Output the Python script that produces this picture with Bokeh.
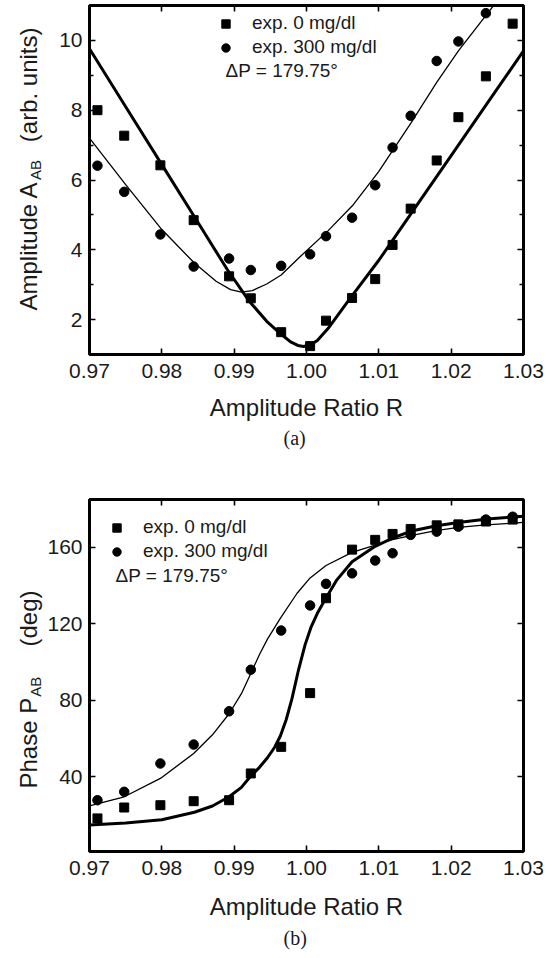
from bokeh.plotting import figure
from bokeh.models import (Range1d, LinearAxis, FixedTicker, PrintfTickFormatter,
                          Label, Legend, LegendItem, Title)
from bokeh.layouts import column, row
from bokeh.embed import file_html
from bokeh.resources import INLINE
from math import pi

# ---------------- data ----------------
ratio = [0.9711, 0.9748, 0.9798, 0.9844, 0.9893, 0.9923, 0.9965, 1.0005, 1.0027,
         1.0063, 1.0095, 1.0119, 1.0144, 1.0180, 1.0210, 1.0248, 1.0285]
amp_0 = [8.00, 7.27, 6.42, 4.85, 3.24, 2.61, 1.64, 1.24, 1.97,
         2.62, 3.16, 4.14, 5.18, 6.56, 7.80, 8.97, 10.48]
amp_300 = [6.41, 5.66, 4.44, 3.52, 3.75, 3.42, 3.54, 3.87, 4.39,
           4.92, 5.85, 6.93, 7.84, 9.41, 9.97, 10.78]
phase_0 = [18.3, 24.0, 25.2, 27.3, 27.8, 41.8, 55.7, 83.8, 133.4,
           158.8, 163.9, 167.0, 169.6, 171.5, 172.0, 173.5, 174.5]
phase_300 = [27.8, 32.2, 47.0, 56.9, 74.3, 96.0, 116.5, 129.6, 140.9,
             146.4, 153.1, 156.9, 166.5, 168.2, 170.8, 174.5, 176.0]

# fitted curves
fit_amp0_x = [0.9700, 0.9750, 0.9800, 0.9850, 0.9890, 0.9920, 0.9945, 0.9965, 0.9978, 0.9988,
              0.9996, 1.0005, 1.0015, 1.0030, 1.0060, 1.0100, 1.0150, 1.0200, 1.0250, 1.0300]
fit_amp0_y = [9.76, 8.10, 6.44, 4.78, 3.45, 2.55, 1.95, 1.58, 1.36, 1.26,
              1.23, 1.27, 1.40, 1.75, 2.60, 3.70, 5.20, 6.70, 8.20, 9.70]
fit_amp300_x = [0.9700, 0.9750, 0.9800, 0.9845, 0.9875, 0.9895, 0.9910, 0.9925, 0.9945, 0.9965,
                0.9990, 1.0030, 1.0065, 1.0100, 1.0145, 1.0180, 1.0210, 1.0270]
fit_amp300_y = [7.20, 5.87, 4.58, 3.62, 3.10, 2.86, 2.79, 2.83, 3.02, 3.28,
                3.78, 4.55, 5.30, 6.25, 7.65, 8.80, 9.70, 11.30]
fit_ph0_x = [0.9700, 0.9750, 0.9800, 0.9845, 0.9870, 0.9893, 0.9910, 0.9923, 0.9935, 0.9946,
             0.9956, 0.9964, 0.9972, 0.9980, 0.9989, 0.9998, 1.0006, 1.0015, 1.0024, 1.0042,
             1.0063, 1.0095, 1.0120, 1.0145, 1.0180, 1.0210, 1.0250, 1.0300]
fit_ph0_y = [14.8, 15.9, 17.6, 21.5, 24.8, 29.6, 34.5, 40.5, 45.0, 50.0,
             55.5, 61.5, 70.0, 81.0, 96.0, 109.0, 118.0, 125.5, 131.5, 143.0,
             152.5, 160.5, 165.0, 168.5, 171.3, 173.0, 174.8, 176.3]
fit_ph300_x = [0.9700, 0.9748, 0.9798, 0.9844, 0.9870, 0.9893, 0.9910, 0.9923, 0.9935, 0.9946,
               0.9964, 0.9987, 1.0005, 1.0027, 1.0063, 1.0095, 1.0119, 1.0144, 1.0179, 1.0210,
               1.0248, 1.0300]
fit_ph300_y = [24.9, 29.6, 39.2, 52.2, 62.0, 73.0, 83.5, 94.0, 104.0, 112.0,
               123.0, 136.0, 144.0, 150.5, 157.4, 161.2, 164.0, 166.1, 168.7, 170.4,
               171.7, 173.0]

x_ticks = [0.97, 0.98, 0.99, 1.00, 1.01, 1.02, 1.03]
amp_ticks = [2, 4, 6, 8, 10]
amp_minor = [3, 5, 7, 9]
phase_ticks = [40, 80, 120, 160]

FONT = "Liberation Sans"
SERIF = "Liberation Serif"
TXT = "#1a1a1a"
W = 554
HT = 958
LW = 44                   # width of the side strip holding the y titles
FL, FR = 87, 523          # frame left/right (page px)


def style_axis(ax, labels=True, ticks=None):
    ax.axis_line_color = None
    ax.major_tick_in = 6
    ax.major_tick_out = 0
    ax.minor_tick_in = 4
    ax.minor_tick_out = 0
    ax.major_tick_line_width = 1.6
    ax.minor_tick_line_width = 1.4
    ax.major_tick_line_color = "black"
    ax.minor_tick_line_color = "black"
    if labels:
        ax.major_label_text_font = FONT
        ax.major_label_text_font_size = "21px"
        ax.major_label_text_color = TXT
    else:
        ax.major_label_overrides = {t: "" for t in ticks}
        ax.major_label_standoff = 0


def make_fig(height, ftop, fbot, yr, yt, ymin, lab_standoff):
    p = figure(width=W - LW, height=height, x_range=Range1d(0.97, 1.03),
               y_range=Range1d(*yr), output_backend="svg", toolbar_location=None,
               min_border_left=FL - LW, min_border_right=W - FR,
               min_border_top=ftop, min_border_bottom=height - fbot)
    p.grid.visible = False
    p.outline_line_color = "black"
    p.outline_line_width = 3
    p.background_fill_color = "white"
    p.border_fill_color = "white"
    p.xaxis.ticker = FixedTicker(ticks=x_ticks, minor_ticks=[])
    p.xaxis.formatter = PrintfTickFormatter(format="%.2f")
    p.yaxis.ticker = FixedTicker(ticks=yt, minor_ticks=ymin)
    for ax in p.xaxis + p.yaxis:
        style_axis(ax)
    p.xaxis.major_label_standoff = 9
    p.yaxis.major_label_standoff = 7
    p.xaxis.axis_label = "Amplitude Ratio R"
    p.xaxis.axis_label_text_font = FONT
    p.xaxis.axis_label_text_font_size = "24px"
    p.xaxis.axis_label_text_font_style = "normal"
    p.xaxis.axis_label_text_color = TXT
    p.xaxis.axis_label_standoff = lab_standoff
    top = LinearAxis(ticker=FixedTicker(ticks=x_ticks, minor_ticks=[]))
    right = LinearAxis(ticker=FixedTicker(ticks=yt, minor_ticks=ymin))
    style_axis(top, labels=False, ticks=x_ticks)
    style_axis(right, labels=False, ticks=yt)
    p.add_layout(top, "above")
    p.add_layout(right, "right")
    return p


def add_data(p, xs, y0, y300, fx0, fy0, fx3, fy3):
    p.line(fx0, fy0, line_color="black", line_width=3.0)
    p.line(fx3, fy3, line_color="black", line_width=1.3)
    r0 = p.scatter(xs[:len(y0)], y0, marker="square", size=9,
                   fill_color="black", line_color="black")
    r3 = p.scatter(xs[:len(y300)], y300, marker="circle", size=9.5,
                   fill_color="black", line_color="black")
    return r0, r3


def add_legend(p, r0, r3, lx, ly):
    leg = Legend(items=[LegendItem(label="exp. 0 mg/dl", renderers=[r0]),
                        LegendItem(label="exp. 300 mg/dl", renderers=[r3])],
                 location=(lx, ly), orientation="vertical")
    leg.label_text_font = FONT
    leg.label_text_font_size = "19px"
    leg.label_text_color = TXT
    leg.glyph_width = 21
    leg.glyph_height = 21
    leg.label_height = 21
    leg.label_standoff = 16
    leg.spacing = 2
    leg.padding = 0
    leg.margin = 0
    leg.border_line_color = None
    leg.background_fill_alpha = 0
    p.add_layout(leg)


def add_inner_label(p, text, cx, cy, fbot):
    p.add_layout(Label(x=cx - FL, y=fbot - cy, x_units="screen", y_units="screen",
                       text=text, text_font=FONT, text_font_size="19px",
                       text_color=TXT, text_align="left", text_baseline="middle"))


def add_caption(p, text, standoff):
    p.add_layout(Title(text=text, align="left", offset=194, standoff=standoff,
                       text_font=SERIF, text_font_size="20px",
                       text_font_style="normal", text_color=TXT), "below")


# ---------------- (a) amplitude ----------------
H1 = 479
p1 = make_fig(H1, 5, 354, (1, 11), amp_ticks, amp_minor, 13)
r0, r3 = add_data(p1, ratio, amp_0, amp_300, fit_amp0_x, fit_amp0_y, fit_amp300_x, fit_amp300_y)
add_legend(p1, r0, r3, 126, 296)
add_inner_label(p1, "\u0394P = 179.75\u00b0", 223, 70, 354)
add_caption(p1, "(a)", 3)

# ---------------- (b) phase ----------------
H2 = HT - H1
fb2 = 851 - H1
p2 = make_fig(H2, 499 - H1, fb2, (1, 185), phase_ticks, [], 15)
r0b, r3b = add_data(p2, ratio, phase_0, phase_300, fit_ph0_x, fit_ph0_y, fit_ph300_x, fit_ph300_y)
add_legend(p2, r0b, r3b, 17, 289)
add_inner_label(p2, "\u0394P = 179.75\u00b0", 113, 575 - H1, fb2)
add_caption(p2, "(b)", 5)

# ---------------- y titles (strip on the left) ----------------
side = figure(width=LW, height=HT, x_range=Range1d(0, LW), y_range=Range1d(0, HT),
              output_backend="svg", toolbar_location=None,
              min_border=0, min_border_left=0, min_border_right=0,
              min_border_top=0, min_border_bottom=0)
side.axis.visible = False
side.grid.visible = False
side.outline_line_color = None
side.border_fill_color = "white"


def side_label(text, cx, cy, size, align="left"):
    side.add_layout(Label(x=cx, y=HT - cy, x_units="screen", y_units="screen",
                          text=text, text_font=FONT, text_font_size=size,
                          text_color=TXT, text_align=align, text_baseline="middle",
                          angle=pi / 2))


F = 24
side_label("Amplitude A", 28, 310, f"{F}px")
side_label("AB", 35, 310 - 5.391 * F - 1, "15px")
side_label("(arb. units)", 28, 27, f"{F}px", align="right")
side_label("Phase P", 28, 788, f"{F}px")
side_label("AB", 35, 788 - 3.78 * F - 1, "15px")
side_label("(deg)", 28, 590, f"{F}px", align="right")

layout = row(side, column(p1, p2, spacing=0), spacing=0)
open("out.html", "w").write(file_html(layout, INLINE))
